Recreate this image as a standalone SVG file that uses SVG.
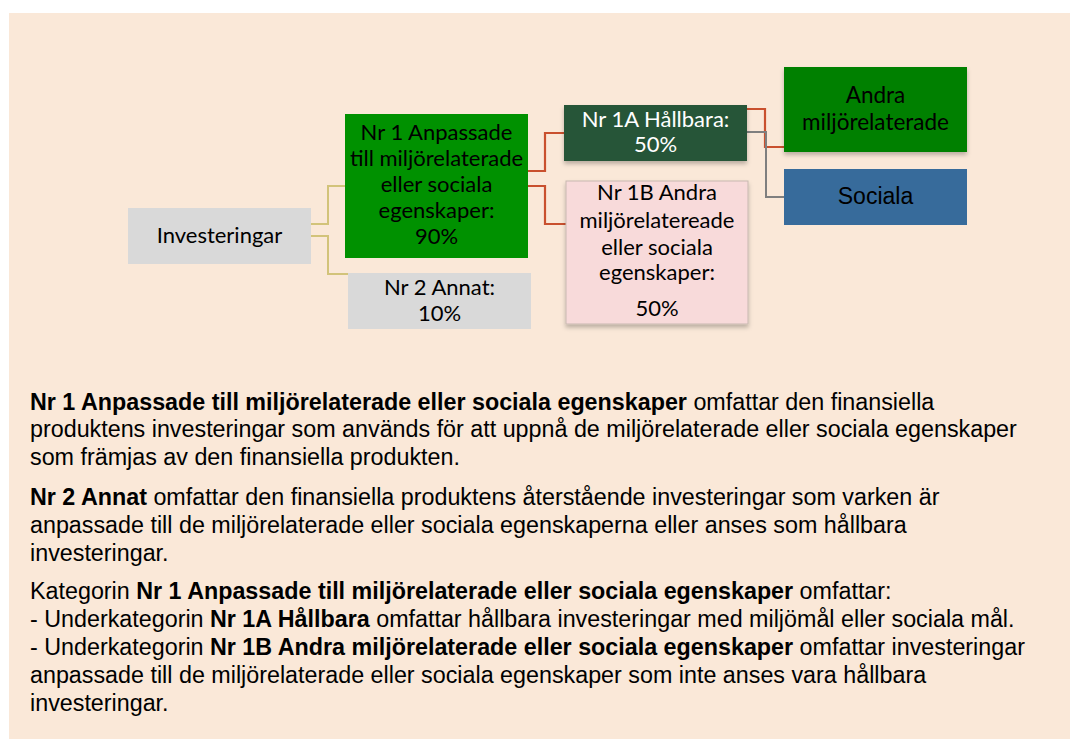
<svg xmlns="http://www.w3.org/2000/svg" width="1070" height="740" viewBox="0 0 1070 740">
<defs>
<style>
.nt{font-family:Lato,"Liberation Sans",sans-serif;font-size:22px;text-anchor:middle;fill:#000}
.wt{fill:#fff}
.ar{font-family:"Liberation Sans",Arial,sans-serif}
.body{font-family:"Liberation Sans",Arial,sans-serif;font-size:23.3px;fill:#000}
.b{font-weight:bold}
.cy{fill:none;stroke:#D2C37A;stroke-width:2}
.cr{fill:none;stroke:#C9502E;stroke-width:2.2}
.cg{fill:none;stroke:#7F7F7F;stroke-width:2}
</style>
<filter id="sh" x="-10%" y="-10%" width="125%" height="130%">
<feDropShadow dx="0" dy="3" stdDeviation="2" flood-color="#000" flood-opacity="0.25"/>
</filter>
</defs>
<rect x="9" y="13" width="1061" height="726" fill="#FAE8D8"/>
<g id="connectors">
<polyline class="cy" points="310,224 328,224 328,186 345,186"/>
<polyline class="cy" points="310,236 328,236 328,274 348,274"/>
<polyline class="cr" points="528,171 545,171 545,133 564,133"/>
<polyline class="cr" points="528,186 545,186 545,224 566,224"/>
<polyline class="cr" points="747,109 765,109 765,147 784,147"/>
<polyline class="cg" points="747,132 766,132 766,197 784,197"/>
</g>
<g id="investeringar">
<rect x="128" y="208" width="183" height="56" fill="#D9D9D9"/>
<text class="nt" x="219.5" y="243">Investeringar</text>
</g>
<g id="nr1">
<rect x="345" y="114" width="183" height="144" fill="#009100"/>
<text class="nt" x="436.5"><tspan x="436.5" y="140">Nr 1 Anpassade</tspan><tspan x="436.5" y="166">till miljörelaterade</tspan><tspan x="436.5" y="192">eller sociala</tspan><tspan x="436.5" y="218">egenskaper:</tspan><tspan x="436.5" y="244">90%</tspan></text>
</g>
<g id="nr2">
<rect x="348" y="273" width="183" height="56" fill="#D9D9D9"/>
<text class="nt" x="439.5"><tspan x="439.5" y="295">Nr 2 Annat:</tspan><tspan x="439.5" y="321">10%</tspan></text>
</g>
<g id="nr1a">
<rect x="564" y="105" width="183" height="56" fill="#265439" filter="url(#sh)"/>
<text class="nt wt" x="655.5"><tspan x="655.5" y="127">Nr 1A Hållbara:</tspan><tspan x="655.5" y="152">50%</tspan></text>
</g>
<g id="nr1b">
<rect x="566" y="181" width="182" height="143" fill="#F8DADA" stroke="#C8B8B0" stroke-width="1" filter="url(#sh)"/>
<text class="nt" x="657"><tspan x="657" y="200">Nr 1B Andra</tspan><tspan x="657" y="228">miljörelatereade</tspan><tspan x="657" y="255">eller sociala</tspan><tspan x="657" y="280">egenskaper:</tspan><tspan x="657" y="316">50%</tspan></text>
</g>
<g id="andra">
<rect x="784" y="67" width="183" height="85" fill="#008000" filter="url(#sh)"/>
<text class="nt" x="875.5" style="font-size:22.5px"><tspan x="875.5" y="103">Andra</tspan><tspan x="875.5" y="130">miljörelaterade</tspan></text>
</g>
<g id="sociala">
<rect x="784" y="169" width="183" height="56" fill="#376B9B"/>
<text class="nt ar" x="875.5" y="204" style="font-size:23px">Sociala</text>
</g>
<g id="description" class="body">
<text x="30" y="410"><tspan class="b">Nr 1 Anpassade till miljörelaterade eller sociala egenskaper</tspan> omfattar den finansiella</text>
<text x="30" y="437">produktens investeringar som används för att uppnå de miljörelaterade eller sociala egenskaper</text>
<text x="30" y="465">som främjas av den finansiella produkten.</text>
<text x="30" y="505"><tspan class="b">Nr 2 Annat</tspan> omfattar den finansiella produktens återstående investeringar som varken är</text>
<text x="30" y="533">anpassade till de miljörelaterade eller sociala egenskaperna eller anses som hållbara</text>
<text x="30" y="561">investeringar.</text>
<text x="30" y="599">Kategorin <tspan class="b">Nr 1 Anpassade till miljörelaterade eller sociala egenskaper</tspan> omfattar:</text>
<text x="30" y="627">- Underkategorin <tspan class="b">Nr 1A Hållbara</tspan> omfattar hållbara investeringar med miljömål eller sociala mål.</text>
<text x="30" y="655">- Underkategorin <tspan class="b">Nr 1B Andra miljörelaterade eller sociala egenskaper</tspan> omfattar investeringar</text>
<text x="30" y="683">anpassade till de miljörelaterade eller sociala egenskaper som inte anses vara hållbara</text>
<text x="30" y="711">investeringar.</text>
</g>
</svg>
